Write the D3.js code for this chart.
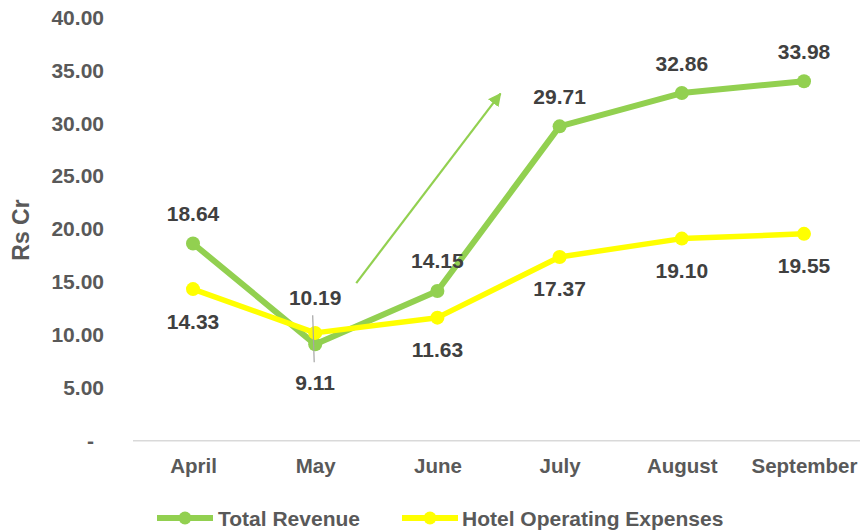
<!DOCTYPE html>
<html><head><meta charset="utf-8">
<script src="https://cdn.jsdelivr.net/npm/d3@7"></script>
<style>
body{margin:0;background:#fff;}
text{font-family:"Liberation Sans",Arial,sans-serif;font-weight:bold;}
</style></head>
<body><svg id="c" width="860" height="531"></svg>
<script>
const months = ["April","May","June","July","August","September"];
const totalRevenue = [18.64, 9.11, 14.15, 29.71, 32.86, 33.98];
const hotelOpex = [14.33, 10.19, 11.63, 17.37, 19.10, 19.55];
const yTicks = [0,5,10,15,20,25,30,35,40];
const seriesNames = ["Total Revenue","Hotel Operating Expenses"];
// trend arrow annotation: [category index, value]
const arrowFrom = [1.336, 14.9];
const arrowTo = [2.516, 32.8];

const svg = d3.select("#c");
const x = d3.scalePoint().domain(months).range([193, 804]);
const y = d3.scaleLinear().domain([0,40]).range([440.7, 17.5]);
const xi = i => x(months[0]) + i * x.step();
const FF = "'Liberation Sans',Arial,sans-serif";

// y tick labels
const yAxis = d3.axisLeft(y).tickValues(yTicks).tickSize(0).tickPadding(0)
  .tickFormat(d => d === 0 ? "-" : d3.format(".2f")(d));
const ga = svg.append("g").attr("transform","translate(104,0)").call(yAxis);
ga.select(".domain").remove();
ga.selectAll("text").attr("fill","#595959").style("font-size","21px")
  .style("font-family",FF).style("font-weight","bold");
ga.selectAll(".tick").filter(d=>d===0).select("text").attr("dx","-10");

// x axis
const xAxis = d3.axisBottom(x).tickSize(0).tickPadding(0);
const gx = svg.append("g").attr("transform","translate(0,441)").call(xAxis);
gx.select(".domain").remove();
gx.selectAll("text").attr("fill","#595959").attr("dy","32").style("font-size","20.5px")
  .style("font-family",FF).style("font-weight","bold");
svg.append("line").attr("x1",133).attr("x2",865).attr("y1",y(0)).attr("y2",y(0))
  .attr("stroke","#D9D9D9").attr("stroke-width",1.5);

// y title
svg.append("text").attr("transform","translate(29,230) rotate(-90)")
  .attr("text-anchor","middle").attr("fill","#595959").style("font-size","23px").text("Rs Cr");

// arrow
const defs = svg.append("defs");
defs.append("marker").attr("id","ah").attr("viewBox","0 0 10 10").attr("refX",9).attr("refY",5)
  .attr("markerWidth",6).attr("markerHeight",6).attr("orient","auto")
  .append("path").attr("d","M0,0 L10,5 L0,10 z").attr("fill","#92D050");
svg.append("line").attr("x1",xi(arrowFrom[0])).attr("y1",y(arrowFrom[1]))
  .attr("x2",xi(arrowTo[0])).attr("y2",y(arrowTo[1]))
  .attr("stroke","#92D050").attr("stroke-width",2.2).attr("marker-end","url(#ah)");

const colors = ["#92D050","#FFFF00"];
const data = [totalRevenue, hotelOpex];
const line = d3.line().x((d,i)=>x(months[i])).y(d=>y(d));
data.forEach((vals,s)=>{
  svg.append("path").datum(vals).attr("d",line).attr("fill","none")
    .attr("stroke",colors[s]).attr("stroke-width",s===0?6:5.5).attr("stroke-linejoin","round");
  svg.selectAll(null).data(vals).enter().append("circle")
    .attr("cx",(d,i)=>x(months[i])).attr("cy",d=>y(d)).attr("r",7).attr("fill",colors[s]);
});

// data labels: each placed on the side away from the other series
data.forEach((vals,s)=>{
  const other = data[1-s];
  vals.forEach((v,i)=>{
    const above = v >= other[i];
    const close = Math.abs(v-other[i]) < 1.5;
    const cx = x(months[i]);
    const cy = above ? y(v) - (close?35:30) : y(v) + (close?38:32);
    svg.append("text").attr("x",cx).attr("y",cy+7.5).attr("text-anchor","middle")
      .attr("fill","#404040").style("font-size","21px").text(d3.format(".2f")(v));
    if (close && !above) {
      svg.append("line").attr("x1",cx-2.5).attr("x2",cx-1).attr("y1",y(v)-29).attr("y2",y(v)+18)
        .attr("stroke","#A6A6A6").attr("stroke-width",1.2);
    }
  });
});

// legend
const leg = [[157,218],[402,462]];
seriesNames.forEach((n,s)=>{
  const [lx,tx] = leg[s];
  svg.append("line").attr("x1",lx).attr("x2",lx+56).attr("y1",518).attr("y2",518)
    .attr("stroke",colors[s]).attr("stroke-width",6);
  svg.append("circle").attr("cx",lx+28).attr("cy",518).attr("r",6.5).attr("fill",colors[s]);
  svg.append("text").attr("x",tx).attr("y",525.5).attr("fill","#595959").style("font-size","21px").text(n);
});
</script></body></html>
